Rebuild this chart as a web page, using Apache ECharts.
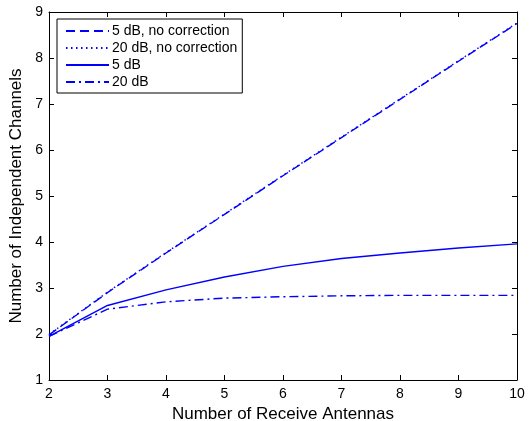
<!DOCTYPE html>
<html><head><meta charset="utf-8">
<script src="https://cdn.jsdelivr.net/npm/echarts@6/dist/echarts.min.js"></script>
<style>html,body{margin:0;padding:0;background:#fff}#c{width:532px;height:421px}</style>
</head><body><div id="c"></div>
<script>
const antennas = [2, 3, 4, 5, 6, 7, 8, 9, 10];
const noCorr5 = [1.98, 2.90, 3.76, 4.60, 5.44, 6.27, 7.10, 7.93, 8.75];
const noCorr20 = [1.99, 2.91, 3.77, 4.61, 5.45, 6.28, 7.11, 7.94, 8.76];
const corr5 = [1.95, 2.62, 2.96, 3.24, 3.47, 3.64, 3.76, 3.87, 3.96];
const corr20 = [1.95, 2.54, 2.70, 2.78, 2.81, 2.83, 2.84, 2.84, 2.84];
const seriesNames = ['5 dB, no correction', '20 dB, no correction', '5 dB', '20 dB'];

const font = 'Liberation Sans, Arial, Helvetica, sans-serif';
const blue = '#0000ff';
function pairs(v){ return antennas.map((x,i)=>[x,v[i]]); }
function mk(name, v, type){
  return {name, type:'line', data:pairs(v), symbol:'none', showSymbol:false,
    lineStyle:{color:blue, width:1.4, type:type}, itemStyle:{color:blue}, animation:false, z:3};
}
const axisCommon = {
  axisLine:{show:true, lineStyle:{color:'#000', width:1}},
  axisTick:{show:true, inside:true, length:5, lineStyle:{color:'#000'}},
  splitLine:{show:false}
};
const chart = echarts.init(document.getElementById('c'), null, {renderer:'canvas'});
chart.setOption({
  animation:false,
  backgroundColor:'#fff',
  grid:{left:49, right:15, top:12, bottom:41, containLabel:false, outerBoundsMode:'none'},
  legend:{
    data:seriesNames, orient:'vertical', left:57, top:19,
    itemWidth:43, itemHeight:14, itemGap:3, padding:[5,5,4,8],
    borderColor:'#000', borderWidth:1, backgroundColor:'#fff',
    itemStyle:{opacity:0},
    textStyle:{fontFamily:font, fontSize:14, color:'#000', padding:[0,0,0,-2]}
  },
  xAxis:[
    Object.assign({type:'value', min:2, max:10, interval:1, position:'bottom',
      name:'Number of Receive Antennas', nameLocation:'middle', nameGap:24,
      nameTextStyle:{fontFamily:font, fontSize:17, color:'#000'},
      axisLabel:{fontFamily:font, fontSize:14, color:'#000', margin:7}}, axisCommon),
    Object.assign({type:'value', min:2, max:10, interval:1, position:'top',
      axisLabel:{show:false}}, axisCommon)
  ],
  yAxis:[
    Object.assign({type:'value', min:1, max:9, interval:1, position:'left',
      name:'Number of Independent Channels', nameLocation:'middle', nameGap:24,
      nameTextStyle:{fontFamily:font, fontSize:17, color:'#000'},
      axisLabel:{fontFamily:font, fontSize:14, color:'#000', margin:6}}, axisCommon),
    Object.assign({type:'value', min:1, max:9, interval:1, position:'right',
      axisLabel:{show:false}}, axisCommon)
  ],
  series:[
    mk(seriesNames[0], noCorr5, [9,5]),
    mk(seriesNames[1], noCorr20, [1.5,3.5]),
    mk(seriesNames[2], corr5, 'solid'),
    mk(seriesNames[3], corr20, [9,4,2,4])
  ]
});
</script></body></html>
